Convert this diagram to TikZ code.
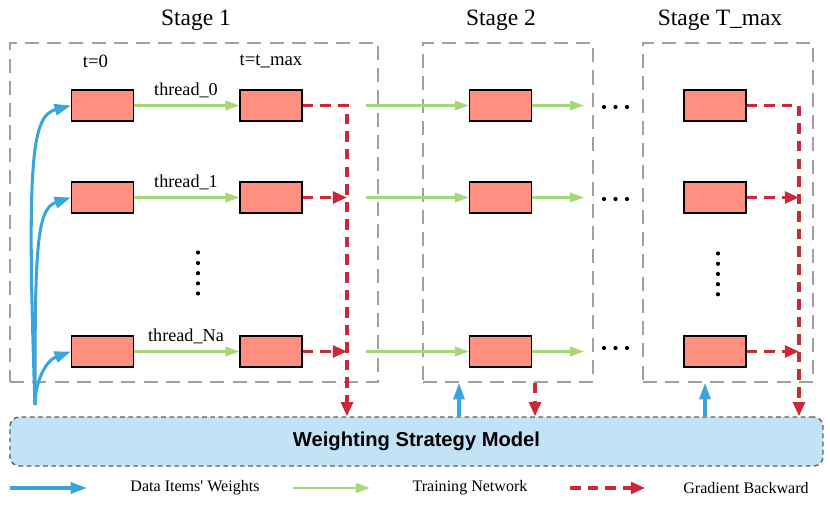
\documentclass[tikz,border=0pt]{standalone}
\usepackage{fontspec}
\setmainfont{Liberation Serif}[Ligatures=TeXOff]
\newfontfamily\boxfont{Liberation Sans}
\usetikzlibrary{arrows.meta}

\definecolor{cellred}{RGB}{255,143,128}
\definecolor{fwdgreen}{RGB}{163,217,119}
\definecolor{bwdred}{RGB}{205,40,55}
\definecolor{wgtblue}{RGB}{58,165,220}
\definecolor{stagegray}{RGB}{160,160,160}
\definecolor{wsmfill}{RGB}{194,227,245}
\definecolor{wsmgray}{RGB}{95,95,95}

\tikzset{
    cell/.style={draw=black,line width=1pt,fill=cellred,minimum width=1.86cm,minimum height=0.93cm,inner sep=0pt},
    stagebox/.style={draw=stagegray,line width=1.6pt,dash pattern=on 12pt off 7pt,minimum height=10.17cm,inner sep=0pt},
    fwd/.style={draw=fwdgreen,line width=2pt,-{Triangle[length=12pt,width=8pt]}},
    bwd/.style={draw=bwdred,line width=2.8pt,dash pattern=on 9pt off 6pt,-{Triangle[length=12pt,width=10pt]}},
    wgt/.style={draw=wgtblue,line width=2.6pt,-{Triangle[length=14pt,width=9.5pt]}},
    lbl/.style={font=\fontsize{15.5}{18}\selectfont},
    leg/.style={font=\fontsize{13.7}{16}\selectfont}
}

\begin{document}
\begin{tikzpicture}[x=0.03cm,y=-0.03cm]
    \useasboundingbox (0,0) rectangle (830,511);

    % stage frames
    \node[stagebox,minimum width=11.04cm] (s1) at (194,212.5) {};
    \node[stagebox,minimum width=5.1cm] (s2) at (508,212.5) {};
    \node[stagebox,minimum width=5.1cm] (sT) at (728,212.5) {};
    \node[font=\fontsize{20}{24}\selectfont] (n1) at (196,20) {Stage 1};
    \node[font=\fontsize{20}{24}\selectfont] (n2) at (501,20) {Stage 2};
    \node[font=\fontsize{20}{24}\selectfont] (nT) at (720,20) {Stage T\_max};

    % weighting model
    \node[draw=wsmgray,line width=1.2pt,dash pattern=on 4pt off 3pt,fill=wsmfill,rounded corners=8pt,
          minimum width=24.39cm,minimum height=1.47cm,inner sep=0pt,
          font=\boxfont\bfseries\fontsize{17.2}{20}\selectfont] (wsm) at (416.5,441.5) {Weighting Strategy Model};

    \node[font=\fontsize{16}{18}\selectfont] (z0) at (95.5,61) {t=0};
    \node[font=\fontsize{16}{18}\selectfont] (zm) at (271,61) {t=t\_max};

    % threads
    \foreach \r/\y/\dy/\name in {0/105.5/107/thread\_0,1/197.5/199/thread\_1,2/351.5/348/thread\_Na}{
        \node[cell] (a\r) at (102.5,\y) {};
        \node[cell] (b\r) at (271,\y) {};
        \node[cell] (c\r) at (500.5,\y) {};
        \node[cell] (d\r) at (715,\y) {};
        \node[lbl,above=-1pt] (l\r) at (186,\y-5) {\name};
        \coordinate (g\r) at (366,\y);
        \coordinate (h\r) at (584,\y);
        \draw[fwd] (a\r) -- (b\r);
        \draw[fwd] (g\r) -- (c\r);
        \draw[fwd] (c\r) -- (h\r);
        \foreach \x in {604,615.5,627}
            \fill (\x,\dy) circle (2.1);
    }
    \foreach \y in {252.5,263,273.2,283.4,293.5}
        \fill (198,\y) circle (2.1);
    \foreach \y in {253.5,263.8,274,284.2,294.3}
        \fill (718,\y) circle (2.1);

    % data weights
    \coordinate (src) at (35,405);
    \draw[wgt] (src) to[out=92,in=195,out distance=7.5cm,in distance=1.2cm] (a0.west);
    \draw[wgt] (src) to[out=90,in=198,out distance=4.6cm,in distance=1.1cm] (a1.west);
    \draw[wgt] (src) to[out=90,in=200,out distance=0.7cm,in distance=0.8cm] (a2.west);
    \coordinate (v2) at (459,0);
    \coordinate (vT) at (705,0);
    \draw[wgt] (v2 |- wsm.north) -- (v2 |- s2.south);
    \draw[wgt] (vT |- wsm.north) -- (vT |- sT.south);

    % gradient backward
    \coordinate (k1) at (347,105.5);
    \coordinate (kT) at (799,105.5);
    \draw[bwd] (b0.east) -- (k1) -- (k1 |- wsm.north);
    \draw[bwd] (d0.east) -- (kT) -- (kT |- wsm.north);
    \foreach \r in {1,2}{
        \draw[bwd] (b\r.east) -- (b\r -| k1);
        \draw[bwd] (d\r.east) -- (d\r -| kT);
    }
    \coordinate (u2) at (535,0);
    \draw[bwd] (u2 |- s2.south) -- (u2 |- wsm.north);

    % legend
    \coordinate (lb0) at (10,488);
    \coordinate (lb1) at (87,488);
    \coordinate (lg0) at (293,488);
    \coordinate (lg1) at (370,488);
    \coordinate (lr0) at (570,488);
    \coordinate (lr1) at (645,488);
    \draw[wgt] (lb0) -- (lb1);
    \draw[fwd] (lg0) -- (lg1);
    \draw[bwd] (lr0) -- (lr1);
    \node[leg] (tb) at (195,488) {Data Items' Weights};
    \node[leg] (tg) at (470,488) {Training Network};
    \node[leg] (tr) at (746,488) {Gradient Backward};
\end{tikzpicture}
\end{document}
